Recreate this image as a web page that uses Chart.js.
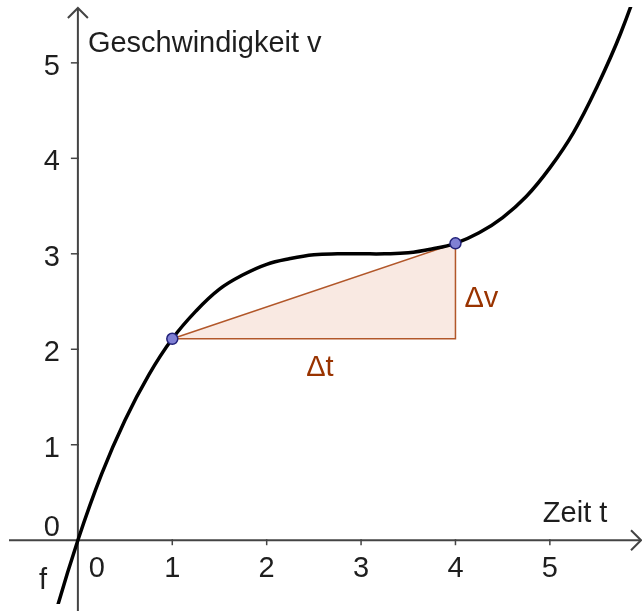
<!DOCTYPE html>
<html>
<head>
<meta charset="utf-8">
<script src="https://cdn.jsdelivr.net/npm/chart.js@4/dist/chart.umd.min.js"></script>
<style>
  html, body { margin: 0; padding: 0; background: #ffffff; }
  #wrap { width: 642px; height: 611px; position: relative; }
</style>
</head>
<body>
<div id="wrap"><canvas id="c"></canvas></div>
<script>
// ---- data ----
const curveT = [-0.75, -0.5, -0.25, 0, 0.25, 0.5, 0.75, 1, 1.25, 1.5, 1.75, 2, 2.25, 2.5, 2.75, 3, 3.25, 3.5, 3.75, 4, 4.25, 4.5, 4.75, 5, 5.25, 5.5, 5.75, 6, 6.25];
const curveV = [-2.86, -1.76, -0.81, 0, 0.69, 1.26, 1.73, 2.11, 2.40, 2.63, 2.78, 2.89, 2.95, 2.99, 3.00, 3.00, 3.00, 3.01, 3.05, 3.11, 3.22, 3.38, 3.60, 3.90, 4.27, 4.75, 5.31, 6.00, 6.81];
const pointT = [1, 4];
const pointV = [2.11, 3.11];
const xTicks = [0, 1, 2, 3, 4, 5];
const yTicks = [0, 1, 2, 3, 4, 5];
const xTitle = 'Zeit t';
const yTitle = 'Geschwindigkeit v';
const curveName = 'f';
const dtLabel = '\u0394t';
const dvLabel = '\u0394v';

// ---- styles ----
const FONT = '29px "Liberation Sans", Arial, sans-serif';
const AXIS = '#444444';
const BROWN = 'rgb(153,51,0)';

const curveData = curveT.map((t, i) => ({ x: t, y: curveV[i] }));
const ptData = pointT.map((t, i) => ({ x: t, y: pointV[i] }));
const triData = [
  { x: pointT[0], y: pointV[0] },
  { x: pointT[1], y: pointV[0] },
  { x: pointT[1], y: pointV[1] },
  { x: pointT[0], y: pointV[0] }
];

const axesPlugin = {
  id: 'geoAxes',
  beforeDatasetsDraw(chart) {
    const ctx = chart.ctx;
    const xs = chart.scales.x, ys = chart.scales.y;
    const x0 = xs.getPixelForValue(0), y0 = ys.getPixelForValue(0);
    const W = chart.width, H = chart.height;
    ctx.save();
    ctx.strokeStyle = AXIS;
    ctx.lineWidth = 2;
    ctx.beginPath();
    ctx.moveTo(9, y0); ctx.lineTo(W - 1, y0);
    ctx.stroke();
    ctx.beginPath();
    ctx.moveTo(W - 11, y0 - 10); ctx.lineTo(W - 1, y0); ctx.lineTo(W - 11, y0 + 10);
    ctx.stroke();
    ctx.beginPath();
    ctx.moveTo(x0, H); ctx.lineTo(x0, 8);
    ctx.stroke();
    ctx.beginPath();
    ctx.moveTo(x0 - 10, 18); ctx.lineTo(x0, 8); ctx.lineTo(x0 + 10, 18);
    ctx.stroke();
    ctx.lineWidth = 1.5;
    xTicks.forEach(v => {
      if (v === 0) return;
      const px = xs.getPixelForValue(v);
      ctx.beginPath(); ctx.moveTo(px, y0 - 1); ctx.lineTo(px, y0 + 5); ctx.stroke();
    });
    yTicks.forEach(v => {
      if (v === 0) return;
      const py = ys.getPixelForValue(v);
      ctx.beginPath(); ctx.moveTo(x0 - 7, py); ctx.lineTo(x0 + 1, py); ctx.stroke();
    });
    ctx.fillStyle = '#1e1e1e';
    ctx.font = FONT;
    ctx.textBaseline = 'alphabetic';
    ctx.textAlign = 'center';
    xTicks.forEach(v => {
      let px = xs.getPixelForValue(v);
      if (v === 0) px = x0 + 19;
      ctx.fillText(String(v), px, y0 + 37);
    });
    ctx.textAlign = 'right';
    yTicks.forEach(v => {
      let py = ys.getPixelForValue(v);
      if (v === 0) py = y0 - 16;
      ctx.fillText(String(v), x0 - 18, py + 12);
    });
    ctx.textAlign = 'left';
    ctx.fillText(yTitle, x0 + 10, 52);
    ctx.fillText(xTitle, xs.getPixelForValue(5) - 7, y0 - 18);
    ctx.fillText(curveName, x0 - 39, y0 + 49);
    ctx.fillStyle = BROWN;
    ctx.textAlign = 'center';
    const mx = (xs.getPixelForValue(pointT[0]) + xs.getPixelForValue(pointT[1])) / 2;
    ctx.fillText(dtLabel, mx + 6, ys.getPixelForValue(pointV[0]) + 37);
    ctx.textAlign = 'left';
    const my = (ys.getPixelForValue(pointV[0]) + ys.getPixelForValue(pointV[1])) / 2;
    ctx.fillText(dvLabel, xs.getPixelForValue(pointT[1]) + 9, my + 16);
    ctx.restore();
  }
};

new Chart(document.getElementById('c'), {
  type: 'scatter',
  data: {
    datasets: [
      {
        label: 'points',
        data: ptData,
        showLine: false,
        pointRadius: 5.5,
        pointBackgroundColor: '#8080d4',
        pointBorderColor: '#22227a',
        pointBorderWidth: 1.5,
        order: 0
      },
      {
        label: curveName,
        data: curveData,
        showLine: true,
        borderColor: '#000000',
        borderWidth: 3.5,
        pointRadius: 0,
        tension: 0.4,
        fill: false,
        order: 1
      },
      {
        label: 'triangle',
        data: triData,
        showLine: true,
        borderColor: 'rgba(170,70,20,0.9)',
        borderWidth: 1.5,
        backgroundColor: 'rgba(214,110,60,0.15)',
        fill: 'shape',
        pointRadius: 0,
        tension: 0,
        order: 2
      }
    ]
  },
  options: {
    responsive: true,
    maintainAspectRatio: false,
    animation: false,
    layout: { padding: 0 },
    plugins: { legend: { display: false }, tooltip: { enabled: false } },
    scales: {
      x: { type: 'linear', min: -0.751, max: 5.902, display: false },
      y: { type: 'linear', min: -0.668, max: 5.585, display: false }
    }
  },
  plugins: [axesPlugin]
});
</script>
</body>
</html>
